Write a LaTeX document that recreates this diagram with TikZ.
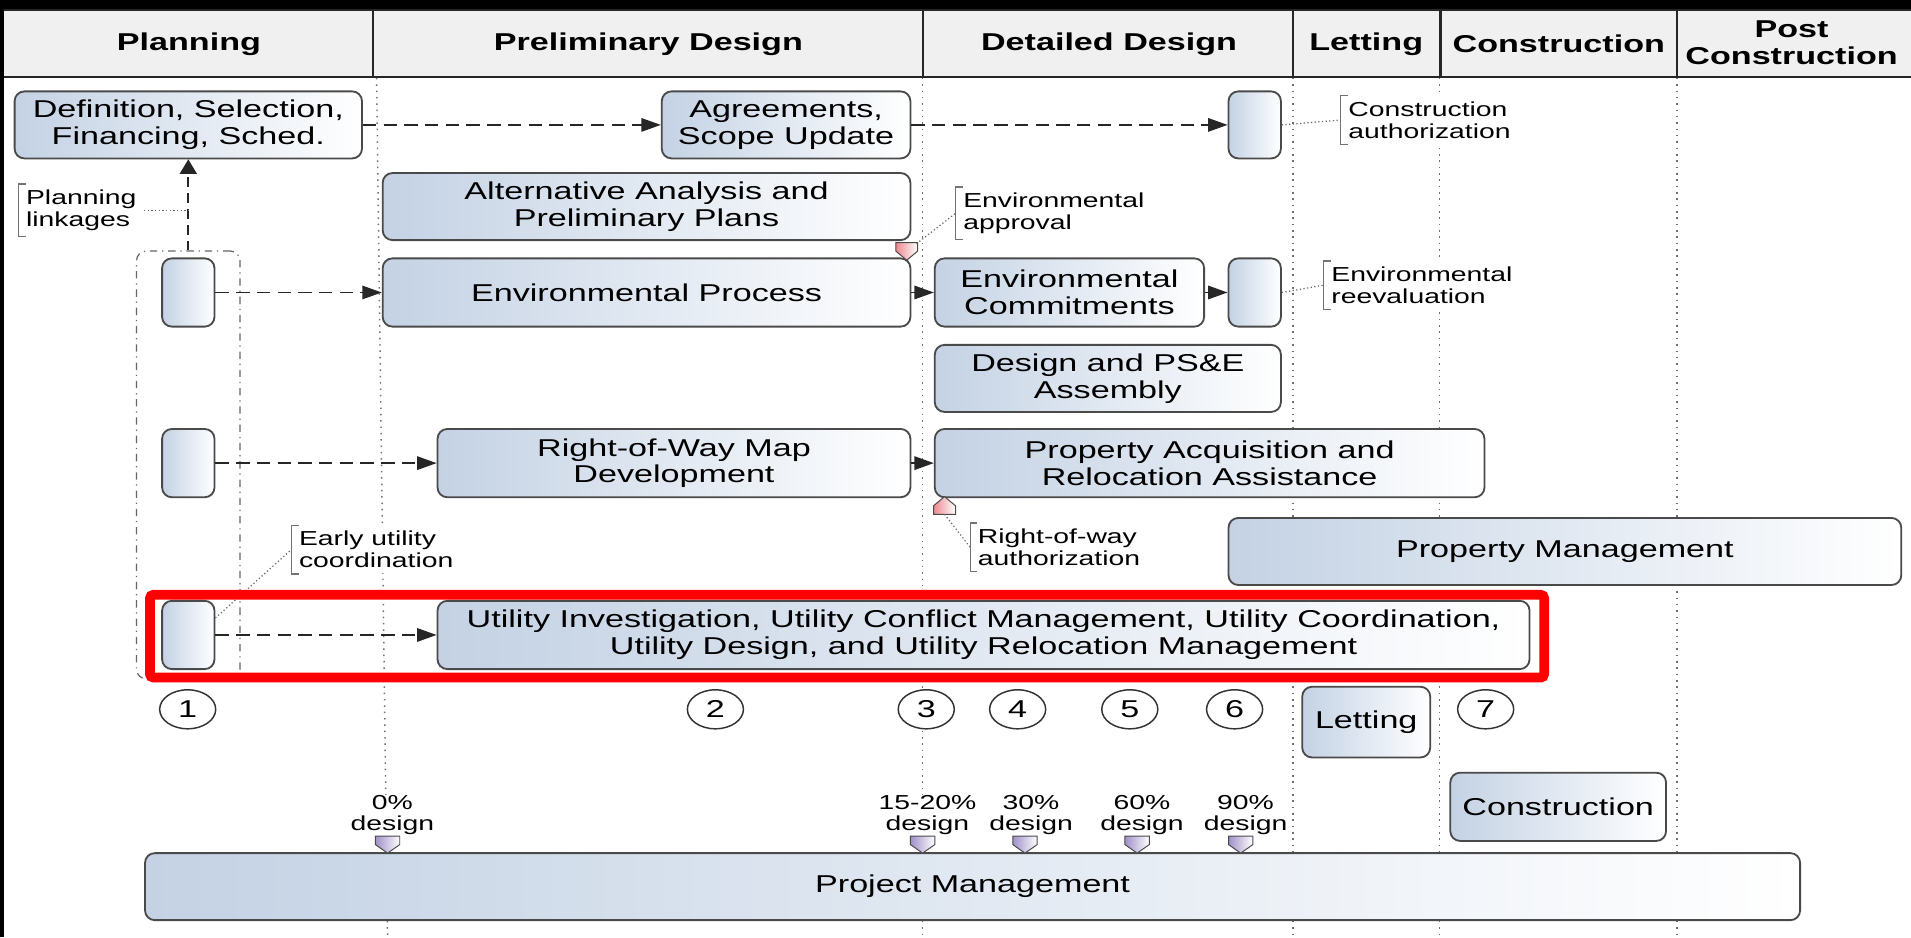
\documentclass[tikz,border=0pt]{standalone}
\usepackage{fontspec}
\setmainfont{Liberation Sans}[FakeStretch=1.4]
\usetikzlibrary{arrows.meta,shapes.geometric}
\definecolor{boxblue}{HTML}{C4D2E4}
\definecolor{boxedge}{HTML}{4A4A4A}
\definecolor{headfill}{HTML}{F0F0F0}
\definecolor{guide}{HTML}{707070}
\definecolor{markred}{HTML}{EE8890}
\definecolor{markpurple}{HTML}{A090C8}
\begin{document}
\begin{tikzpicture}[x=0.5pt,y=-0.5pt,
  box/.style={draw=boxedge, line width=0.75pt, rounded corners=4pt,
    left color=boxblue, right color=white, align=center, inner sep=0pt,
    font=\fontsize{10}{11}\selectfont},
  head/.style={font=\bfseries\fontsize{10}{11}\selectfont, align=center},
  lbl/.style={fill=white, align=left, inner xsep=3pt, inner ysep=2.2pt,
    font=\fontsize{8.3}{9}\selectfont, anchor=west},
  brk/.style={draw=black!55, line width=0.5pt},
  leader/.style={draw=black!60, densely dotted, line width=0.5pt},
  guideline/.style={draw=guide, dotted, line width=0.6pt},
  dasharr/.style={draw=black!85, line width=0.75pt, dash pattern=on 5.5pt off 3pt, -{Triangle[length=8pt,width=5.5pt]}},
  uparr/.style={draw=black!85, line width=0.75pt, dash pattern=on 4pt off 2.5pt, -{Triangle[length=6pt,width=7pt]}},
  solarr/.style={draw=black!85, line width=0.75pt, -{Triangle[length=8pt,width=5.5pt]}},
  num/.style={ellipse, draw=black!80, line width=0.6pt, fill=white, minimum width=23pt, minimum height=16pt, inner sep=0pt, font=\fontsize{10}{10}\selectfont},
  ms/.style={fill=white, align=center, inner sep=0.5pt, font=\fontsize{8.3}{8.5}\selectfont},
  grpbox/.style={draw=black!60, line width=0.5pt, dash dot, rounded corners=4pt},
  hlframe/.style={draw=red, line width=4pt, rounded corners=1.5pt},
  pics/mdown/.style={code={\draw[draw=boxedge, line width=0.4pt, left color=#1, right color=white]
     (-9,-7) -- (9,-7) -- (9,0) -- (0,7.5) -- (-9,0) -- cycle;}},
  pics/mup/.style={code={\draw[draw=boxedge, line width=0.4pt, left color=#1, right color=white]
     (-9,7) -- (9,7) -- (9,0) -- (0,-7.5) -- (-9,0) -- cycle;}},
  pics/mpurple/.style={code={\draw[draw=boxedge, line width=0.4pt, left color=markpurple, right color=white]
     (-10,-7) -- (10,-7) -- (10,0) -- (0,7) -- (-10,0) -- cycle;}},
]
\useasboundingbox (0,0) rectangle (1568,769);
\fill[white] (0,0) rectangle (1568,769);
% black screen edges
\fill[black] (0,0) rectangle (1568,7);
\fill[black] (0,0) rectangle (3,769);
% header
\fill[headfill] (3,8) rectangle (1568,63);
\draw[black!85, line width=0.9pt] (3,8) -- (1568,8) (3,63) -- (1568,63);
\foreach \xx in {306,757,1061,1182,1376} \draw[black!85, line width=0.9pt] (\xx,8) -- (\xx,63);
\node[head] (hplan) at (155,36) {Planning};
\node[head] (hpre) at (532,36) {Preliminary Design};
\node[head] (hdet) at (910,36) {Detailed Design};
\node[head] (hlet) at (1121,36) {Letting};
\node[head] (hcon) at (1279,36) {Construction};
\node[head] (hpost) at (1470,35) {Post\\Construction};
% guides
\draw[guideline] (309,64) -- (318,769);
\foreach \xx in {757,1061,1181,1376} \draw[guideline] (\xx,64) -- (\xx,769);
% group of planning boxes
\node[grpbox, minimum width=42.5pt, minimum height=175.5pt] (grp) at (154.5,381.5) {};
% boxes
\node[box, minimum width=142.5pt, minimum height=27.5pt] (def) at (154.5,102.5) {Definition, Selection,\\Financing, Sched.};
\node[box, minimum width=102pt, minimum height=27.5pt] (agr) at (645,102.5) {Agreements,\\Scope Update};
\node[box, minimum width=21.5pt, minimum height=27.5pt] (ca) at (1029.5,102.5) {};
\node[box, minimum width=216.5pt, minimum height=27.5pt] (alt) at (530.5,169.5) {Alternative Analysis and\\Preliminary Plans};
\node[box, minimum width=216.5pt, minimum height=28pt] (envp) at (530.5,240) {Environmental Process};
\node[box, minimum width=110.5pt, minimum height=28pt] (envc) at (877.5,240) {Environmental\\Commitments};
\node[box, minimum width=21.5pt, minimum height=28pt] (envr) at (1029.5,240) {};
\node[box, minimum width=142pt, minimum height=27.5pt] (dps) at (909,310.5) {Design and PS\&E\\Assembly};
\node[box, minimum width=194pt, minimum height=28pt] (row) at (553,380) {Right-of-Way Map\\Development};
\node[box, minimum width=225.5pt, minimum height=28pt] (prop) at (992.5,380) {Property Acquisition and\\Relocation Assistance};
\node[box, minimum width=276pt, minimum height=27.5pt] (pmg) at (1284,452.5) {Property Management};
\node[box, minimum width=21.5pt, minimum height=28pt] (p1) at (154.5,240) {};
\node[box, minimum width=21.5pt, minimum height=28pt] (p2) at (154.5,380) {};
\node[box, minimum width=21.5pt, minimum height=28pt] (p3) at (154.5,521) {};
\node[box, minimum width=448pt, minimum height=28pt] (util) at (807,521) {Utility Investigation, Utility Conflict Management, Utility Coordination,\\Utility Design, and Utility Relocation Management};
\node[box, minimum width=52.5pt, minimum height=29pt] (let) at (1121,592.5) {Letting};
\node[box, minimum width=88.5pt, minimum height=28pt] (con) at (1278.5,662) {Construction};
\node[box, minimum width=679pt, minimum height=27.5pt] (proj) at (798,727.5) {Project Management};
% arrows
\draw[dasharr] (def.east) -- (agr.west);
\draw[dasharr] (agr.east) -- (ca.west);
\draw[uparr] (grp.north) -- (def.south);
\draw[dasharr] (p1.east) -- (envp.west);
\draw[dasharr] (p2.east) -- (row.west);
\draw[dasharr] (p3.east) -- (util.west);
\draw[solarr] (envp.east) -- (envc.west);
\draw[solarr] (envc.east) -- (envr.west);
\draw[solarr] (row.east) -- (prop.west);
% bracket labels
\node[lbl] (cab) at (1100,98.5) {Construction\\authorization};
\node[lbl] (erb) at (1086,234) {Environmental\\reevaluation};
\node[lbl] (eab) at (784,175) {Environmental\\approval};
\node[lbl] (rwb) at (796,449) {Right-of-way\\authorization};
\node[lbl] (eub) at (239,451) {Early utility\\coordination};
\node[lbl] (plb) at (15,172.5) {Planning\\linkages};
\foreach \b in {cab,erb,eab,rwb,eub,plb}
  \draw[brk] ([xshift=3pt]\b.north west) -- (\b.north west) -- (\b.south west) -- ([xshift=3pt]\b.south west);
% markers
\coordinate (mea) at (744,206);
\coordinate (mrw) at (775,415);
\pic at (mea) {mdown=markred};
\pic at (mrw) {mup=markred};
\draw[leader] ([xshift=4pt,yshift=3pt]mea) -- (eab.west);
\draw[leader] ([yshift=-3.5pt]mrw) -- (rwb.west);
\draw[leader] (ca.east) -- (cab.west);
\draw[leader] (envr.east) -- (erb.west);
\draw[leader] ([yshift=7pt]p3.east) -- (eub.west);
\draw[leader] (plb.east) -- (plb.east -| grp.north);
% highlight frame
\node[hlframe, minimum width=572pt, minimum height=34pt] (hl) at (695,522) {};
% numbered circles
\node[num] (n1) at (154,582) {1};
\node[num] (n2) at (587,582) {2};
\node[num] (n3) at (760,582) {3};
\node[num] (n4) at (835,582) {4};
\node[num] (n5) at (927,582) {5};
\node[num] (n6) at (1013,582) {6};
\node[num] (n7) at (1219,582) {7};
% milestones
\node[ms] (d0) at (322,669) {0\%\\design};
\node[ms] (d15) at (761,669) {15-20\%\\design};
\node[ms] (d30) at (846,669) {30\%\\design};
\node[ms] (d60) at (937,669) {60\%\\design};
\node[ms] (d90) at (1022,669) {90\%\\design};
\foreach \xx in {318,757,841,933,1018} \pic at (\xx,693) {mpurple};
\end{tikzpicture}
\end{document}
